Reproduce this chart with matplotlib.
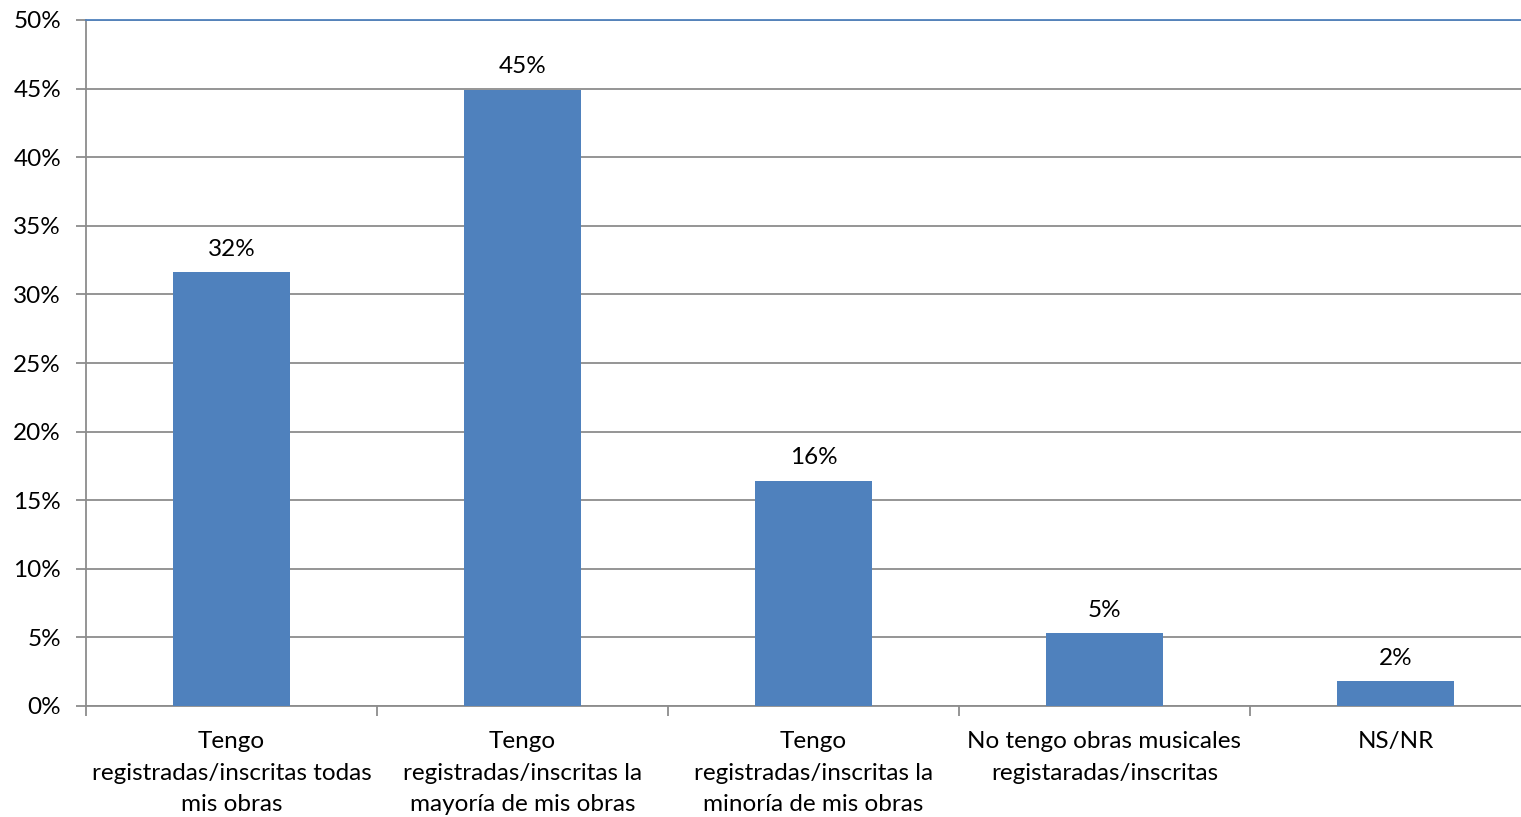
import matplotlib
matplotlib.use("Agg")
import matplotlib.pyplot as plt
from matplotlib.ticker import FuncFormatter

# data
categories = [
    "Tengo\nregistradas/inscritas todas\nmis obras",
    "Tengo\nregistradas/inscritas la\nmayoría de mis obras",
    "Tengo\nregistradas/inscritas la\nminoría de mis obras",
    "No tengo obras musicales\nregistaradas/inscritas",
    "NS/NR",
]
values = [31.6, 44.9, 16.4, 5.3, 1.8]
y_ticks = [0, 5, 10, 15, 20, 25, 30, 35, 40, 45, 50]

BAR_COLOR = "#4F81BD"
GRID_COLOR = "#8C8C8C"
FS = 17.5

plt.rcParams["font.family"] = ["Lato", "DejaVu Sans"]

fig = plt.figure(figsize=(15.21, 8.17), dpi=100)
# plot area runs slightly past the right edge, like the source
ax = fig.add_axes([86 / 1521, 1 - 706 / 817, 1455 / 1521, 686 / 817])

x = list(range(len(categories)))
ax.bar(x, values, width=0.4, color=BAR_COLOR, zorder=3)

for xi, v in zip(x, values):
    ax.annotate(f"{v:.0f}%", xy=(xi, v), xytext=(0, 9), textcoords="offset points",
                ha="center", va="bottom", fontsize=FS, color="black")

ax.set_xlim(-0.5, len(categories) - 0.5)
ax.set_ylim(0, 50)
ax.set_yticks(y_ticks)
ax.yaxis.set_major_formatter(FuncFormatter(lambda v, p: f"{v:.0f}%"))
ax.yaxis.grid(True, color=GRID_COLOR, linewidth=1.3, zorder=0)

# category boundaries as tick marks, labels in the middle
ax.set_xticks([i - 0.5 for i in range(len(categories) + 1)])
ax.set_xticklabels([])
ax.set_xticks(x, minor=True)
ax.set_xticklabels(categories, minor=True, fontsize=FS, linespacing=1.63)
ax.tick_params(axis="x", which="minor", length=0, pad=18)
ax.tick_params(axis="x", which="major", length=7, width=1.3, color=GRID_COLOR)
ax.tick_params(axis="y", length=7, width=1.3, color=GRID_COLOR, labelsize=FS, pad=11)

ax.spines["right"].set_visible(False)
ax.spines["top"].set_color(BAR_COLOR)
ax.spines["top"].set_linewidth(1.3)
ax.spines["left"].set_color(GRID_COLOR)
ax.spines["left"].set_linewidth(1.3)
ax.spines["bottom"].set_color(GRID_COLOR)
ax.spines["bottom"].set_linewidth(1.3)

fig.savefig("out.png", dpi=100)
